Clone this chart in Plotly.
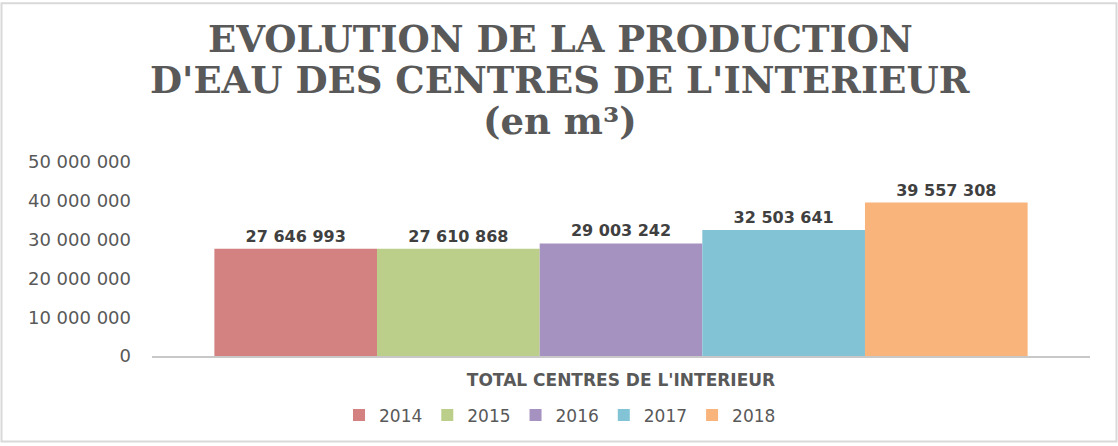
import plotly.graph_objects as go

categories = ["TOTAL CENTRES DE L'INTERIEUR"]
years = ["2014", "2015", "2016", "2017", "2018"]
values = [27646993, 27610868, 29003242, 32503641, 39557308]
colors = ["#d38181", "#bbcf8b", "#a692c0", "#82c4d6", "#f9b47c"]
y_ticks = [0, 10000000, 20000000, 30000000, 40000000, 50000000]
title_lines = ["EVOLUTION DE LA PRODUCTION", "D'EAU DES CENTRES DE L'INTERIEUR", "(en m³)"]

fig = go.Figure()
for yr, v, c in zip(years, values, colors):
    fig.add_trace(go.Bar(
        name=yr, x=categories, y=[v], marker=dict(color=c, line=dict(width=0)),
        texttemplate="%{y:,.0f}", textposition="outside", cliponaxis=False,
        textfont=dict(family="DejaVu Sans", size=16, color="#404040", weight="bold"),
    ))

W, H = 1118, 446
L, R, T, B = 152, 28, 162, 88
pw, ph = W - L - R, H - T - B

def px(x):
    return (x - L) / pw

def py(y):
    return (H - B - y) / ph

title_y = [38, 79, 121]
annotations = [
    dict(text=t, xref="paper", yref="paper", x=px(560), y=py(yy),
         xanchor="center", yanchor="middle", showarrow=False,
         font=dict(family="DejaVu Serif", size=37, color="#595959", weight="bold"))
    for t, yy in zip(title_lines, title_y)
]

fig.update_layout(
    width=W, height=H,
    margin=dict(l=L, r=R, t=T, b=B),
    paper_bgcolor="white", plot_bgcolor="white",
    separators=", ",
    barmode="group", bargap=0.133, bargroupgap=0,
    annotations=annotations,
    xaxis=dict(
        showgrid=False, showline=True, linecolor="#c8c8c8", linewidth=1.5,
        ticks="", tickfont=dict(family="DejaVu Sans", size=17, color="#595959", weight="bold"),
        ticklabelstandoff=8,
    ),
    yaxis=dict(
        range=[0, 50000000], tickvals=y_ticks, tickformat=",.0f",
        showgrid=False, zeroline=False, showline=False, ticks="",
        tickfont=dict(family="DejaVu Sans", size=18, color="#595959"),
        ticklabelstandoff=20,
    ),
    legend=dict(
        orientation="h", x=px(560), xanchor="center", y=py(418), yanchor="middle",
        font=dict(family="DejaVu Sans", size=17, color="#595959"),
        itemwidth=30, traceorder="normal",
    ),
    shapes=[dict(
        type="rect", xref="paper", yref="paper",
        x0=px(1.5), x1=px(1116.5), y0=py(444.5), y1=py(1.5),
        line=dict(color="#d9d9d9", width=2), fillcolor="rgba(0,0,0,0)", layer="below",
    )],
)

fig.write_html(
    "out.html",
    config={"displayModeBar": False},
    post_script="document.body.style.margin='0';document.body.style.overflow='hidden';",
)
